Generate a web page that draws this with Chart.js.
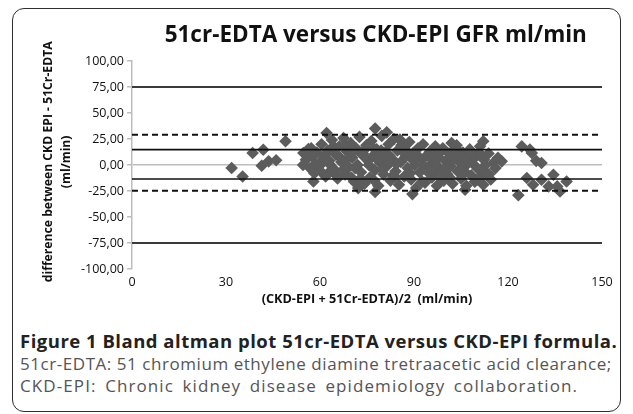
<!DOCTYPE html>
<html>
<head>
<meta charset="utf-8">
<script src="https://cdn.jsdelivr.net/npm/chart.js@4/dist/chart.umd.min.js"></script>
<style>
    body { margin: 0; background: #fff; }
    .frame {
        position: absolute; left: 12px; top: 8px; width: 607px; height: 402px;
        border: 1.5px solid #2e2e2e; border-radius: 12px;
    }
    #chart-wrap { position: absolute; left: 0; top: 0; width: 633px; height: 314px; }
    .caption { position: absolute; left: 20px; font-family: 'Open Sans', sans-serif; white-space: nowrap; }
    .caption.head { top: 328px; font-size: 18.5px; letter-spacing: 0.5px; font-weight: bold; color: #222; }
    .caption.line { font-size: 17px; color: #555; }
</style>
</head>
<body>
<div class="frame"></div>
<div id="chart-wrap"><canvas id="ba-chart" width="633" height="314"></canvas></div>
<div class="caption head">Figure 1 Bland altman plot 51cr-EDTA versus CKD-EPI formula.</div>
<div class="caption line" style="top:352px; letter-spacing:0.55px">51cr-EDTA: 51 chromium ethylene diamine tretraacetic acid clearance;</div>
<div class="caption line" style="top:374px; letter-spacing:1.1px; word-spacing:3px">CKD-EPI: Chronic kidney disease epidemiology collaboration.</div>

<script>
// start: data
const meanGfr = [
    31.8, 35.3, 38.5, 41.9, 41.4, 43.6, 46.0, 49.0, 54.7, 56.3, 54.6, 57.9, 62.1, 60.0, 63.2, 64.3,
    67.4, 72.2, 77.6, 77.6, 81.3, 85.5, 89.5, 102.0, 112.1, 106.3, 112.1, 118.0,
    124.4, 127.0, 130.7, 126.0, 123.3, 130.7, 134.5, 136.6, 138.7, 135.7, 128.0, 127.6, 133.0, 129.0,
    55.5, 56.8, 57.5, 58.2, 59.0, 59.8, 60.5, 61.0, 61.8, 62.5, 63.0, 63.8, 64.5, 65.0, 65.6, 66.2,
    66.8, 67.5, 68.0, 68.6, 69.2, 69.8, 70.3, 70.9, 71.5, 72.0, 72.6, 73.1, 73.7, 74.2, 74.8, 75.3,
    75.9, 76.4, 77.0, 77.5, 78.1, 78.6, 79.2, 79.7, 80.3, 80.8, 81.4, 81.9, 82.5, 83.0, 83.6, 84.1,
    84.7, 85.2, 85.8, 86.3, 86.9, 87.4, 88.0, 88.5, 89.1, 89.6, 90.2, 90.7, 91.3, 91.8, 92.4, 92.9,
    93.5, 94.0, 94.6, 95.1, 95.7, 96.2, 96.8, 97.3, 97.9, 98.4, 99.0, 99.5, 100.1, 100.6, 101.2, 101.7,
    102.3, 102.8, 103.4, 103.9, 104.5, 105.0, 105.6, 106.1, 106.7, 107.2, 107.8, 108.3, 108.9, 109.4, 110.0, 110.5,
    111.1, 111.6, 112.3, 113.0, 113.8, 114.5, 115.3, 116.0, 116.8,
    58.6, 61.4, 64.0, 66.5, 69.0, 71.2, 73.4, 75.6, 78.0, 80.0, 82.2, 84.4, 86.6, 88.8, 91.0, 93.2,
    95.4, 97.6, 99.8, 102.0, 104.2, 106.4, 108.6, 110.8, 70.0, 76.8, 83.3, 89.9, 96.5, 103.1,
    57.2, 60.2, 62.9, 65.3, 67.9, 70.6, 72.9, 75.0, 77.3, 79.5, 81.6, 83.9, 86.0, 88.2, 90.5, 92.6,
    94.8, 97.0, 99.2, 101.4, 103.6, 105.8, 108.0, 110.2, 112.8, 114.0, 68.4, 79.0, 87.8, 98.7
]
const diffGfr = [
    -2.9, -11.0, 11.6, 14.7, -0.7, 3.5, 4.5, 22.8, 11.6, 15.4, 0.0, -15.8, 30.8, 2.0, -6.1, 17.9,
    -4.5, -22.2, 35.0, -26.0, 31.4, 24.4, -28.0, 21.2, 22.8, -23.8, -19.0, 3.5,
    17.9, 14.8, 1.9, -12.5, -29.0, -14.2, -9.4, -25.5, -15.8, -20.6, -19.0, 11.6, -20.6, 4.0,
    5, -3, 8, -8, 12, -1, 20, 6, -11, 14, 1, 24, -4, 10, -13, 18,
    3, 26, -9, 13, -2, 21, 7, -16, 16, 0, 27, -7, 11, -18, 19, 4,
    -12, 23, 9, -5, 15, -20, 2, 28, -9, 12, -1, 20, -15, 6, 25, -6,
    14, -19, 3, 17, -11, 8, -3, 22, -14, 11, 0, -22, 16, -7, 5, 20,
    -17, 9, -2, 13, -12, 2, 18, -20, 7, -5, 14, -15, 4, -9, 11, -1,
    -18, 8, 16, -6, 3, -13, 12, -2, -20, 6, 15, -10, 1, -16, 9, -4,
    18, -12, 5, -7, 11, -14, 2, -3, 7,
    1, 9, -6, 7, 15, -3, 10, 0, 6, -4, 9, 1, 12, -8, 8, -1,
    6, 10, -3, 4, 9, -7, 5, 12, -12, 17, -10, 4, -8, 15,
    16, -6, 4, -10, 19, 12, -13, 17, -15, 14, 3, -11, 19, -9, 11, -16,
    -8, 1, 16, -12, 19, -8, 12, -14, 0, -9, 5, 6, 13, -13
]
const limitLines = [75, 14.8, 29.2, -13.5, -24.8, -75]
const limitDashed = [false, false, true, false, true, false]
const xTicks = [0, 30, 60, 90, 120, 150]
// end: data

const points = meanGfr.map(function(m, i) { return { x: m, y: diffGfr[i] } })

const lineSets = limitLines.map(function(v, i) {
    const outer = Math.abs(v) === 75
    return {
        type: 'line',
        data: [{ x: 0, y: v }, { x: 150, y: v }],
        borderColor: outer ? '#3a3a3a' : '#111',
        borderWidth: limitDashed[i] ? 2 : (outer ? 2 : 1.6),
        borderDash: limitDashed[i] ? [6, 4] : [],
        pointRadius: 0,
        order: 0
    }
})

const fontFam = "'Open Sans', sans-serif"

new Chart(document.getElementById('ba-chart'), {
    type: 'scatter',
    data: {
        datasets: [{
            data: points,
            backgroundColor: '#5c5c5c',
            borderWidth: 0,
            pointStyle: 'rectRot',
            pointRadius: 6.3,
            order: 1
        }].concat(lineSets)
    },
    options: {
        responsive: false,
        animation: false,
        layout: { padding: { left: 0, right: 31, top: 0, bottom: 0 } },
        plugins: {
            legend: { display: false },
            tooltip: { enabled: false },
            title: {
                display: true,
                fullSize: false,
                // leading spaces nudge the centred title right, as in the original
                text: '   51cr-EDTA versus CKD-EPI GFR ml/min',
                color: '#111',
                font: { family: fontFam, size: 22.5, weight: 'bold' },
                padding: { top: 22, bottom: 12 }
            }
        },
        scales: {
            x: {
                type: 'linear',
                min: 0,
                max: 150,
                afterBuildTicks: function(scale) {
                    scale.ticks = xTicks.map(function(v) { return { value: v } })
                },
                afterFit: function(scale) { scale.height = 45 },
                grid: { display: false, drawTicks: false },
                border: { display: false },
                ticks: { color: '#111', padding: 6, font: { family: fontFam, size: 12.5 } },
                title: {
                    display: true,
                    text: '(CKD-EPI + 51Cr-EDTA)/2  (ml/min)',
                    color: '#111',
                    font: { family: fontFam, size: 12.7, weight: 'bold' },
                    padding: { top: 0, bottom: 7 }
                }
            },
            y: {
                min: -100,
                max: 100,
                afterFit: function(scale) { scale.width = 132 },
                ticks: {
                    stepSize: 25,
                    color: '#111',
                    padding: 3,
                    font: { family: fontFam, size: 12.5 },
                    callback: function(v) { return v.toFixed(2).replace('.', ',') }
                },
                grid: {
                    color: function(ctx) { return ctx.tick && ctx.tick.value === 0 ? '#bdbdbd' : 'rgba(0,0,0,0)' },
                    lineWidth: 1.5,
                    tickColor: '#bdbdbd',
                    tickLength: 5
                },
                border: { color: '#bdbdbd', width: 1.5 },
                title: {
                    display: true,
                    // leading spaces lift the centred text a little
                    text: ['  difference between CKD EPI - 51Cr-EDTA', '  (ml/min)'],
                    color: '#111',
                    font: { family: fontFam, size: 12.2, weight: 'bold', lineHeight: '18px' },
                    padding: { top: 40, bottom: 0 }
                }
            }
        }
    }
})
</script>
</body>
</html>
